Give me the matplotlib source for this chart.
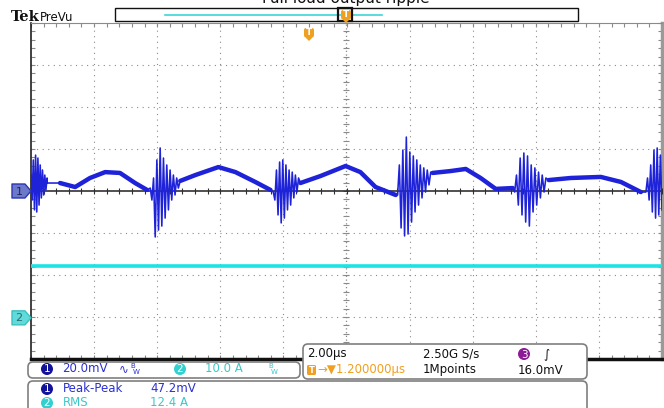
import numpy as np
import matplotlib.pyplot as plt
from matplotlib.patches import FancyBboxPatch, Polygon, Circle, Rectangle

# --- scope settings / readouts ---
title = "Full load output ripple"
ch1_scale = 20.0      # mV/div
ch2_scale = 10.0      # A/div
ch1_offset = 0.0      # div
ch2_offset = -3.02    # div
time_scale = 2.0      # us/div
ch2_level = 12.4      # A
readouts = {"sample": "2.50G S/s", "record": "1Mpoints", "trig_level": "16.0mV",
            "trig_pos": "1.200000\u00b5s"}
meas_names = ["Peak-Peak", "RMS"]
meas_values = ["47.2mV", "12.4 A"]

# ch1 slow ripple, between the ringing bursts (us, mV)
base_t = [-9.49, -9.08, -8.60, -8.13, -7.65, -7.18, -6.70, -6.32,
          -5.27, -4.79, -4.06, -3.52, -2.89, -2.41,
          -1.46, -0.83, -0.03, 0.44, 0.92, 1.56,
          2.73, 3.30, 3.78, 4.25, 4.73, 5.27,
          6.41, 7.11, 8.06, 8.70, 9.33]
base_mv = [3.8, 3.8, 1.9, 6.2, 9.0, 8.6, 3.8, 0.5,
           4.8, 7.6, 11.4, 9.0, 4.3, 0.5,
           3.8, 7.1, 11.9, 9.0, 1.9, -1.9,
           8.6, 9.5, 10.5, 6.2, 1.0, 1.4,
           5.2, 6.2, 6.7, 4.3, -0.5]

# switching ringing bursts: start/end (us) and successive peaks (mV)
burst_start = [-10.0, -6.22, -2.32, 1.62, 5.33, 9.49]
burst_end = [-9.49, -5.33, -1.52, 2.67, 6.32, 10.0]
burst_peaks = [
    [7.6, -4.3, 14.8, -9.0, 17.1, -10.0, 15.7, -6.7, 12.4, -3.3, 10.0, -1.9, 7.6, 0.5, 6.2],
    [1.4, -4.3, 6.2, -21.9, 14.8, -18.6, 20.5, -16.7, 15.7, -12.9, 12.4, -9.0, 10.0,
     -4.3, 7.6, -1.9, 6.2, 1.4],
    [-0.5, -4.3, 10.0, -11.4, 13.8, -15.2, 14.8, -12.9, 12.4, -9.0, 10.0, -6.7, 9.0,
     -3.3, 7.6, -0.5, 6.2],
    [-1.9, 12.4, -17.6, 19.5, -21.4, 25.7, -20.5, 18.6, -14.8, 16.7, -10.0, 14.8, -6.7,
     12.4, -3.3, 11.0, -0.5, 10.0, 2.9, 9.0],
    [-0.5, 7.6, -6.7, 15.7, -11.4, 18.1, -14.8, 16.7, -16.7, 12.4, -10.0, 11.0, -6.7,
     9.0, -3.3, 7.6, -0.5, 6.2],
    [-0.5, 6.2, -4.3, 12.4, -10.0, 19.5, -12.9, 20.5, -11.4, 17.1, -9.0],
]

BLUE = '#1e22d8'
CYAN = '#1ee3e3'
NAVY = '#12129a'
ORANGE = '#f0a020'
PURPLE = '#8c1b96'
TXT_BLUE = '#2a30d0'
TXT_CYAN = '#3cc8c8'
GREY = '#8a8a8a'

W, H = 664, 408
plt.rcParams['font.family'] = ['DejaVu Sans']
fig = plt.figure(figsize=(W / 100, H / 100), dpi=100)
fig.patch.set_facecolor('white')

ax = fig.add_axes([31 / W, (H - 359) / H, 631 / W, 336 / H])
ax.set_xlim(-5 * time_scale, 5 * time_scale)
ax.set_ylim(-4, 4)

# graticule
for gx in np.arange(-4, 5) * time_scale:
    if gx != 0:
        ax.axvline(gx, color=GREY, lw=0.8, ls=(0, (1, 4)), zorder=1)
for gy in range(-3, 4):
    if gy != 0:
        ax.axhline(gy, color=GREY, lw=0.8, ls=(0, (1, 4)), zorder=1)
ax.axvline(0, color=GREY, lw=0.9, ls=(0, (1, 2)), zorder=1)
ax.axhline(0, color='#202020', lw=1.1, zorder=3)
minor_x = np.arange(-10, 10.01, 0.4)
minor_y = np.arange(-4, 4.01, 0.2)
ax.plot(minor_x, np.zeros_like(minor_x), ls='none', marker='|', ms=4, mew=0.8,
        color='#303030', zorder=3)
ax.plot(np.zeros_like(minor_y), minor_y, ls='none', marker='_', ms=5, mew=0.8,
        color=GREY, zorder=1)

ax.set_xticks(minor_x)
ax.set_yticks(minor_y)
ax.tick_params(direction='in', length=3, width=0.8, color=GREY, top=True, right=True,
               labelbottom=False, labelleft=False)
ax.spines['left'].set_color('#202020')
ax.spines['left'].set_linewidth(1.2)
ax.spines['top'].set_color(GREY)
ax.spines['right'].set_color('#9a9a9a')
ax.spines['right'].set_linewidth(2.5)
ax.spines['bottom'].set_color('#101010')
ax.spines['bottom'].set_linewidth(2.5)

# ch2 current, flat
ax.plot([-10, 10], [ch2_offset + ch2_level / ch2_scale] * 2, color=CYAN, lw=2.6, zorder=4)

# ch1 ripple
bt = np.array(base_t)
bv = np.array(base_mv)
all_t = list(base_t)
all_v = list(base_mv)
for s, e, p in zip(burst_start, burst_end, burst_peaks):
    tt = np.linspace(s, e, len(p))
    all_t += list(tt)
    all_v += p
order = np.argsort(all_t)
all_t = np.array(all_t)[order]
all_v = np.array(all_v)[order]
ax.plot(all_t, ch1_offset + all_v / ch1_scale, color=BLUE, lw=1.15, zorder=5)
for lo, hi in zip(burst_end, burst_start[1:] + [10.01]):
    m = (bt > lo) & (bt < hi)
    ax.plot(bt[m], ch1_offset + bv[m] / ch1_scale, color=BLUE, lw=3.2, zorder=5,
            solid_capstyle='round', solid_joinstyle='round')

# ---- overlay in pixel coordinates ----
o = fig.add_axes([0, 0, 1, 1], facecolor='none')
o.set_xlim(0, W)
o.set_ylim(H, 0)
o.axis('off')


def pix_y(div):
    return H - ax.transData.transform((0, div))[1]


o.text(346, -2, title, ha='center', va='center', fontsize=11, color='#111')
o.text(11, 21, 'Tek', fontfamily='DejaVu Serif', fontweight='bold', fontsize=10.5,
       color='#111')
o.text(40, 21, 'PreVu', fontsize=8.5, color='#111')

# record view bar
o.add_patch(Rectangle((115, 8), 463, 13, fc='white', ec='#111', lw=1))
o.plot([165, 382], [14.5, 14.5], color='#3cd6d6', lw=1.2)
o.add_patch(Rectangle((338, 8), 14, 13, fc='none', ec='#111', lw=1.6, zorder=4))


def t_badge(x, y, fs=6.5):
    o.add_patch(FancyBboxPatch((x - 5, y - 6), 10, 9, boxstyle='round,pad=0,rounding_size=2',
                               fc=ORANGE, ec='none', zorder=5))
    o.add_patch(Polygon([(x - 5, y + 2), (x + 5, y + 2), (x, y + 7)], fc=ORANGE, ec='none',
                        zorder=5))
    o.text(x, y - 1.5, 'T', ha='center', va='center', fontsize=fs, color='white',
           fontweight='bold', zorder=6)


t_badge(346, 16)
t_badge(309, 34)

# channel markers
for off, fc, ec, tc, lab in [(ch1_offset, '#6c78c8', '#2b35b5', '#1c2560', '1'),
                             (ch2_offset, '#62dada', '#3cc0c0', '#2a6a70', '2')]:
    y = pix_y(off)
    o.add_patch(Polygon([(12, y - 7), (25, y - 7), (31, y), (25, y + 7), (12, y + 7)],
                        fc=fc, ec=ec, lw=1, joinstyle='round'))
    o.text(19, y + 0.5, lab, ha='center', va='center', fontsize=8, color=tc)

# bottom readout boxes
box = dict(boxstyle='round,pad=0,rounding_size=5', fc='white', ec='#7f7f7f', lw=1.2)
o.add_patch(FancyBboxPatch((28, 362), 272, 16, **box))
o.add_patch(FancyBboxPatch((303, 344), 284, 35, **box))
o.add_patch(FancyBboxPatch((28, 381), 559, 40, **box))


def badge(x, y, lab, col):
    o.add_patch(Circle((x, y), 6, fc=col, ec='none', zorder=5))
    o.text(x, y + 0.5, lab, ha='center', va='center', fontsize=7.5, color='white', zorder=6)


fs = 8.5
badge(47, 369, '1', NAVY)
o.text(62, 369, f'{ch1_scale:.1f}mV', va='center', fontsize=fs, color=TXT_BLUE)
o.text(119, 369, '\u223f', va='center', fontsize=fs, color=TXT_BLUE)
o.text(130, 366, 'B', va='center', fontsize=5, color=TXT_BLUE)
o.text(133, 372, 'W', va='center', fontsize=5, color=TXT_BLUE)
badge(180, 369, '2', '#33d0d0')
o.text(205, 369, f'{ch2_scale:.1f} A', va='center', fontsize=fs, color=TXT_CYAN)
o.text(268, 366, 'B', va='center', fontsize=5, color=TXT_CYAN)
o.text(271, 372, 'W', va='center', fontsize=5, color=TXT_CYAN)

o.text(307, 354, f'{time_scale:.2f}\u00b5s', va='center', fontsize=fs, color='#111')
o.text(423, 354, readouts['sample'], va='center', fontsize=fs, color='#111')
badge(524, 354, '3', PURPLE)
o.text(543, 354, '\u222b', va='center', fontsize=fs, color='#111')
o.add_patch(FancyBboxPatch((307, 365), 9, 10, boxstyle='round,pad=0,rounding_size=1.5',
                           fc=ORANGE, ec='none'))
o.text(311.5, 370.5, 'T', ha='center', va='center', fontsize=6, color='white',
       fontweight='bold')
o.text(317, 370, '\u2192\u25bc' + readouts['trig_pos'], va='center', fontsize=fs,
       color=ORANGE)
o.text(423, 370, readouts['record'], va='center', fontsize=fs, color='#111')
o.text(518, 370, readouts['trig_level'], va='center', fontsize=fs, color='#111')

for i, (nm, val, col, tcol) in enumerate(zip(meas_names, meas_values, [NAVY, '#33d0d0'],
                                             [TXT_BLUE, TXT_CYAN])):
    y = 389 + 14 * i
    badge(47, y, str(i + 1), col)
    o.text(63, y, nm, va='center', fontsize=fs, color=tcol)
    o.text(150, y, val, va='center', fontsize=fs, color=tcol)

fig.savefig('out.png', dpi=100)
